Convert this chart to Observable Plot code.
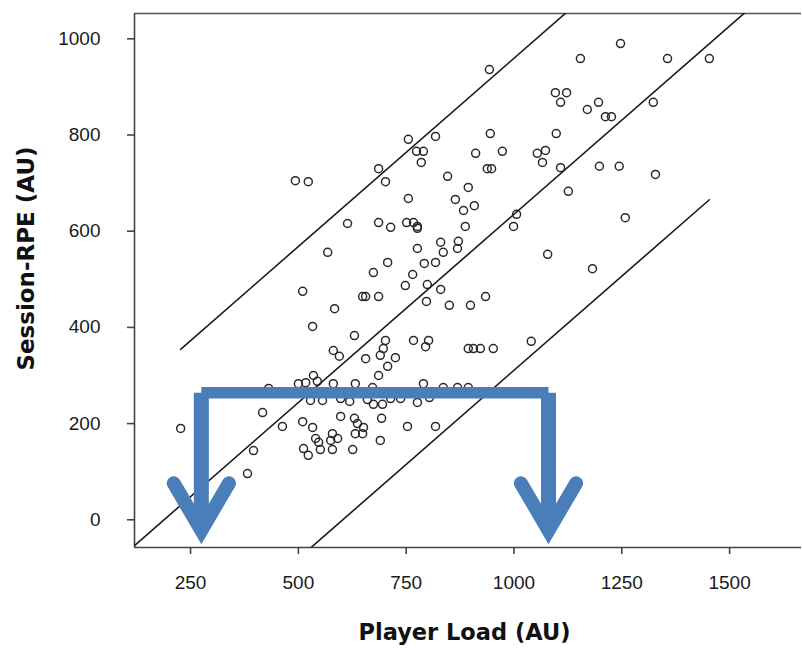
<!DOCTYPE html>
<html><head><meta charset="utf-8">
<script src="https://cdn.jsdelivr.net/npm/d3@7"></script>
<script src="https://cdn.jsdelivr.net/npm/@observablehq/plot@0.6"></script>
<style>html,body{margin:0;padding:0;background:#fff;overflow:hidden;}#chart{width:802px;height:648px;overflow:hidden;}#chart svg{display:block;}</style>
</head><body><div id="chart"></div>
<script>
// Scatter data: Player Load (AU) vs Session-RPE (AU)
const playerLoad = [1453,1356,1247,1154,943,1096,1122,1108,1170,1196,1212,1226,1323,1198,1244,1328,1258,945,1098,911,973,1054,1073,1066,938,948,1108,846,894,1126,864,908,883,1006,999,887,871,830,755,818,774,790,785,686,702,493,523,755,614,686,714,751,767,776,776,776,836,792,818,765,748,799,830,797,850,568,707,674,510,649,656,686,584,533,869,1078,1182,899,934,894,906,922,952,1040,630,702,697,690,725,581,595,656,707,686,767,802,795,535,517,581,632,790,672,500,544,431,836,869,894,528,556,598,619,660,674,695,714,737,776,804,598,510,630,637,693,533,651,649,632,753,818,579,575,540,547,591,551,579,626,690,523,417,227,463,396,382,512];
const sessionRPE = [959,959,990,959,936,888,888,868,853,868,838,838,868,735,735,718,628,803,803,762,766,762,768,743,730,730,732,714,691,683,666,653,643,635,610,610,579,577,791,797,766,766,743,730,703,705,703,668,616,618,608,618,618,610,606,564,556,533,535,510,487,489,479,454,446,556,535,514,475,464,464,464,439,402,564,552,522,446,464,356,356,356,356,371,383,373,356,342,337,352,340,335,319,300,373,373,360,300,285,283,283,283,275,283,288,273,275,275,275,248,248,252,246,250,240,240,252,252,244,254,215,204,211,200,211,192,192,179,179,194,194,179,165,169,161,169,146,146,146,165,134,223,190,194,144,96,148];

const xTicks = [250, 500, 750, 1000, 1250, 1500];
const yTicks = [0, 200, 400, 600, 800, 1000];
const xTitle = "Player Load (AU)";
const yTitle = "Session-RPE (AU)";

// Fit line and prediction interval
const fitSlope = 0.7828;
const fitIntercept = -147.6;
const predictionHalfWidth = 324.4;

// Blue bracket annotation (data units)
const bracketX = [275, 1080];
const bracketY = 264;
const arrowTipY = -22;
const arrowWingY = 76;
const arrowWingDX = 64;

const xDomain = [120, 1669];
const yDomain = [-57.6, 1052.6];

const points = playerLoad.map((x, i) => ({x, y: sessionRPE[i]}));
const [xMin, xMax] = d3.extent(playerLoad);
const fit = (x) => fitIntercept + fitSlope * x;
const fitLine = xDomain.map((x) => ({x, y: fit(x)}));
const upperLine = [xMin, xMax].map((x) => ({x, y: fit(x) + predictionHalfWidth}));
const lowerLine = [xMin, xMax].map((x) => ({x, y: fit(x) - predictionHalfWidth}));

const blue = "#4a7ebb";
const barLine = bracketX.map((x) => ({x, y: bracketY}));
const shafts = bracketX.map((x) => [{x, y: bracketY}, {x, y: arrowTipY}]);
const heads = bracketX.map((x) => [
  {x: x - arrowWingDX, y: arrowWingY},
  {x, y: arrowTipY},
  {x: x + arrowWingDX, y: arrowWingY}
]);

const fmt = (d) => String(d);

const chart = Plot.plot({
  width: 802,
  height: 648,
  marginLeft: 134,
  marginRight: 0,
  marginTop: 13,
  marginBottom: 101,
  x: {domain: xDomain},
  y: {domain: yDomain},
  style: {background: "white", color: "#222", fontFamily: "'Liberation Sans', Arial, sans-serif", fontSize: "19px"},
  marks: [
    Plot.ruleX([xDomain[0]], {stroke: "#444", strokeWidth: 1.6}),
    Plot.ruleY([yDomain[1]], {stroke: "#555", strokeWidth: 1.6}),
    Plot.ruleY([yDomain[0]], {stroke: "#444", strokeWidth: 1.6}),
    Plot.axisX(xTicks, {tickSize: 7, tickPadding: 21, tickFormat: fmt, label: null, fontSize: 19, stroke: "#444", strokeWidth: 1.6, fill: "#1a1a1a"}),
    Plot.axisY(yTicks, {tickSize: 7, tickPadding: 27, tickFormat: fmt, label: null, fontSize: 19, stroke: "#444", strokeWidth: 1.6, fill: "#1a1a1a"}),
    Plot.dot(points, {x: "x", y: "y", r: 4, stroke: "#2a2a2a", strokeWidth: 1.5, fill: "none"}),
    Plot.line(fitLine, {x: "x", y: "y", stroke: "#1a1a1a", strokeWidth: 1.6, clip: true}),
    Plot.line(upperLine, {x: "x", y: "y", stroke: "#1a1a1a", strokeWidth: 1.6, clip: true}),
    Plot.line(lowerLine, {x: "x", y: "y", stroke: "#1a1a1a", strokeWidth: 1.6, clip: true}),
    Plot.ruleX([xDomain[1]], {stroke: "white", strokeWidth: 5, dx: 1, y1: yDomain[0], y2: yDomain[1], insetTop: 2, insetBottom: 2}),
    Plot.line(barLine, {x: "x", y: "y", stroke: blue, strokeWidth: 11.6, strokeLinecap: "butt"}),
    ...shafts.map((s) => Plot.line(s, {x: "x", y: "y", stroke: blue, strokeWidth: 15, strokeLinecap: "butt"})),
    ...heads.map((h) => Plot.line(h, {x: "x", y: "y", stroke: blue, strokeWidth: 14, strokeLinecap: "round", strokeLinejoin: "miter", strokeMiterlimit: 4})),
    Plot.text([yTitle], {frameAnchor: "middle", textAnchor: "middle", lineAnchor: "middle", rotate: -90, dx: -442, dy: -22, fontFamily: "'DejaVu Sans', Verdana, sans-serif", fontWeight: "bold", fontSize: 23, fill: "#111"}),
    Plot.text([xTitle], {frameAnchor: "middle", textAnchor: "middle", lineAnchor: "middle", dx: -4, dy: 352, fontFamily: "'DejaVu Sans', Verdana, sans-serif", fontWeight: "bold", fontSize: 22.5, fill: "#111"})
  ]
});
document.getElementById("chart").append(chart);
</script>
</body></html>
